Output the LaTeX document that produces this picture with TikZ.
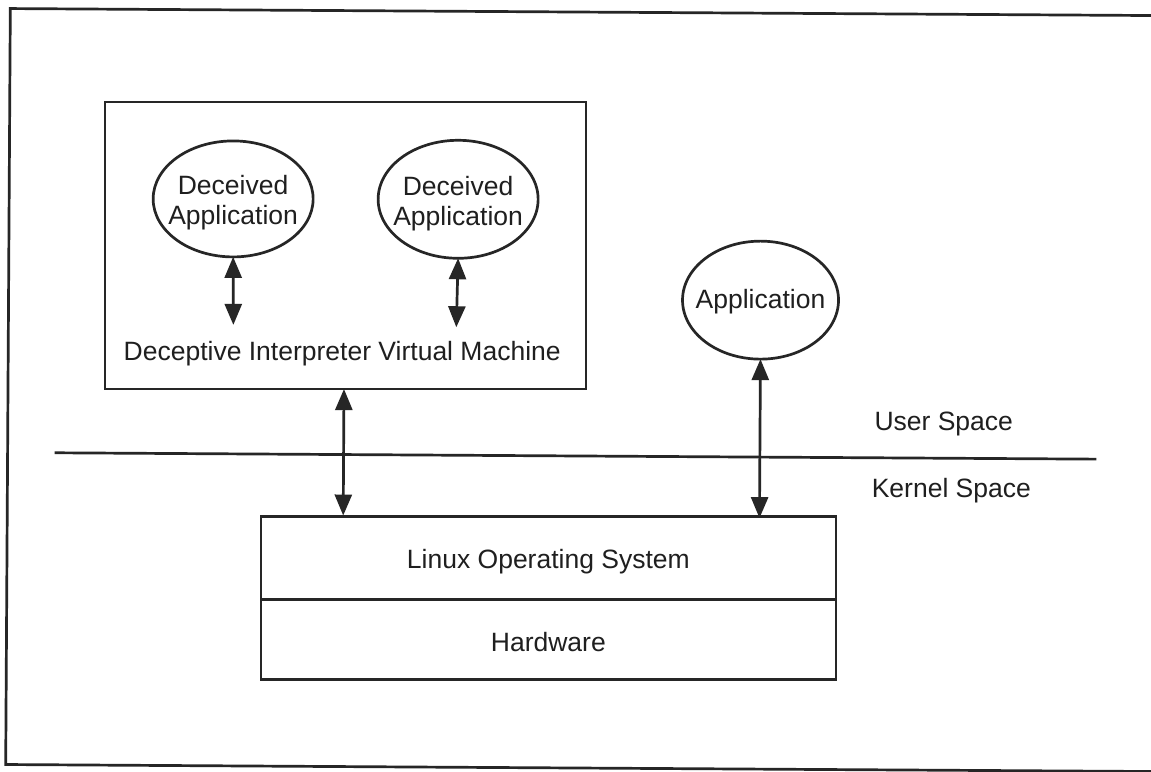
\documentclass[tikz,border=0pt]{standalone}
\usepackage{fontspec}
\setmainfont{Liberation Sans}
\usetikzlibrary{shapes.geometric,arrows.meta}

\tikzset{
  every node/.style={font=\fontsize{26.5}{30}\selectfont, text=black!88},
  stroke/.style={line width=2.7pt, draw=black!85},
  appnode/.style={stroke, ellipse, inner sep=0pt, outer sep=0pt},
  boxnode/.style={stroke, rectangle, inner sep=0pt, outer sep=0pt},
  label/.style={inner sep=0pt, align=center},
  dbl/.style={stroke, {Triangle[length=21pt,width=17pt]}-{Triangle[length=21pt,width=17pt]}}
}

\begin{document}
\begin{tikzpicture}[x=1pt, y=-1pt]
  \useasboundingbox (0,0) rectangle (1151,771);
  \fill[white] (0,0) rectangle (1151,771);

  \begin{scope}[rotate around={-0.35:(575,385)}]
    % outer frame (right side runs past the page)
    \draw[stroke] (1170,12) -- (8,12) -- (8,768) -- (1170,768);

    % interpreter VM container
    \node[boxnode, minimum width=481pt, minimum height=287pt] (divm) at (344.5,247) {};
    \node[appnode, minimum width=160pt, minimum height=116pt] (da1) at (232,201) {};
    \node[appnode, minimum width=160pt, minimum height=118pt] (da2) at (457,200) {};
    \node[label] at ([yshift=-4pt]da1.center) {Deceived\\Application};
    \node[label] at ([yshift=-4pt]da2.center) {Deceived\\Application};
    \node[label] (vmlabel) at (342,355) {Deceptive Interpreter Virtual Machine};
    \coordinate (v1) at (233,327);
    \coordinate (v2) at (456,328);
    \draw[dbl] (da1.south) -- (v1);
    \draw[dbl] (da2.south) -- (v2);

    % ordinary application
    \node[appnode, minimum width=156pt, minimum height=118pt] (app) at (760,299) {};
    \node[label] at ([yshift=-2pt]app.center) {Application};

    % user / kernel boundary
    \coordinate (bl) at (55,456);
    \coordinate (br) at (1097,456);
    \draw[stroke] (bl) -- (br);
    \node[label] (user) at (944,422) {User Space};
    \node[label] (kernel) at (952,488) {Kernel Space};

    % operating system and hardware stack
    \node[boxnode, minimum width=575pt, minimum height=83pt] (os) at (549.5,558.5) {};
    \node[boxnode, minimum width=575pt, minimum height=80pt, anchor=north] (hw) at (os.south) {};
    \node[label] at ([yshift=-3pt]os.center) {Linux Operating System};
    \node[label] at ([yshift=-2pt]hw.center) {Hardware};

    % system call paths
    \draw[dbl] (divm.south -| 344,0) -- (os.north -| 344,0);
    \draw[dbl] (app.south) -- (os.north -| app.south);
  \end{scope}
\end{tikzpicture}
\end{document}
